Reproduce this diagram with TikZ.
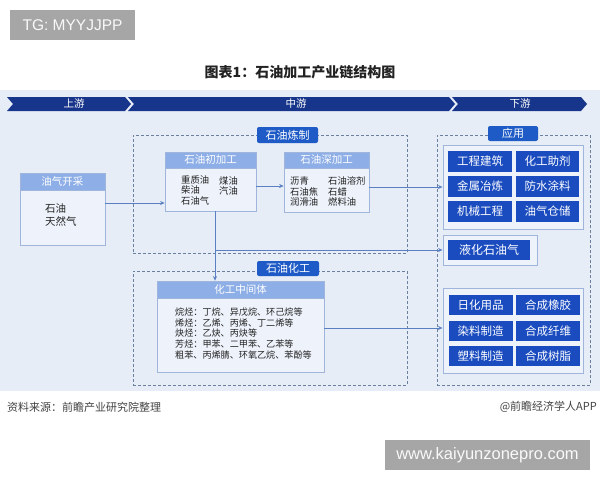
\documentclass[tikz,border=0pt]{standalone}
\usepackage{fontspec}
\setmainfont{Liberation Sans}
\newfontfamily\cjk{Noto Sans CJK SC}
\usetikzlibrary{arrows.meta}
\definecolor{navy}{HTML}{17358A}
\definecolor{lblue}{HTML}{1E5BC6}
\definecolor{cellblue}{HTML}{1A4CC0}
\definecolor{hdr}{HTML}{8DAEE6}
\definecolor{bodyc}{HTML}{EEF3FB}
\definecolor{bordc}{HTML}{9FB5DB}
\definecolor{panel}{HTML}{E6EDF7}
\definecolor{framec}{HTML}{6B7F9F}
\definecolor{linec}{HTML}{5A7FC2}
\definecolor{tgray}{HTML}{A6A6A6}
\definecolor{txt}{HTML}{222222}
\begin{document}
\begin{tikzpicture}[x=1pt,y=-1pt,
  tgbox/.style={fill=tgray, text=white!95!gray, inner sep=0pt, font=\fontsize{15.5}{17}\selectfont},
  hdrbox/.style={fill=hdr, draw=bordc, line width=0.7pt, text=white, inner sep=0pt, font=\cjk\fontsize{10.5}{12}\selectfont},
  bodybox/.style={fill=bodyc, draw=bordc, line width=0.7pt, inner sep=0pt},
  bodytext/.style={inner sep=0pt, align=left, text=txt, font=\cjk\fontsize{9.3}{10.5}\selectfont},
  frame/.style={draw=framec, dashed, dash pattern=on 3pt off 2pt, line width=0.8pt, inner sep=0pt},
  tagbox/.style={fill=lblue, rounded corners=2pt, text=white, inner sep=0pt, font=\cjk\fontsize{11}{13}\selectfont},
  holder/.style={fill=bodyc, draw=bordc, line width=0.9pt, inner sep=0pt},
  cell/.style={fill=cellblue, text=white, inner sep=0pt, font=\cjk\fontsize{11.5}{13}\selectfont},
  bantext/.style={text=white, inner sep=0pt, font=\cjk\fontsize{10.5}{12}\selectfont},
  arr/.style={draw=linec, line width=0.9pt, -{Stealth[length=4.5pt,width=4pt]}},
  ln/.style={draw=linec, line width=0.9pt}
]
\useasboundingbox (0,0) rectangle (600,480);
\fill[white] (0,0) rectangle (600,480);

% header watermark boxes
\node[tgbox, minimum width=125pt, minimum height=30pt] (tg) at (72.5,25) {TG: MYYJJPP};
\node[inner sep=0pt, text=txt, font=\cjk\bfseries\fontsize{14}{16}\selectfont] (title) at (300,72) {图表1：石油加工产业链结构图};

% panel
\fill[panel] (0,90) rectangle (600,391);

% banner
\fill[navy] (7,97) -- (125,97) -- (131,104) -- (125,111) -- (7,111) -- (13,104) -- cycle;
\fill[navy] (128,97) -- (449,97) -- (455,104) -- (449,111) -- (128,111) -- (134,104) -- cycle;
\fill[navy] (452,97) -- (581,97) -- (587,104) -- (581,111) -- (452,111) -- (458,104) -- cycle;
\node[bantext] (up) at (74,104) {上游};
\node[bantext] (mid) at (296,104) {中游};
\node[bantext] (down) at (520,104) {下游};

% frames
\node[frame, minimum width=274pt, minimum height=118pt] (f1) at (270,194) {};
\node[frame, minimum width=274pt, minimum height=114pt] (f2) at (270,328) {};
\node[frame, minimum width=153pt, minimum height=250pt] (f3) at (513.5,260) {};
\node[tagbox, minimum width=61pt, minimum height=16pt] (t1) at (287.5,135) {石油炼制};
\node[tagbox, minimum width=62pt, minimum height=15pt] (t2) at (288,268.5) {石油化工};
\node[tagbox, minimum width=50pt, minimum height=15pt] (t3) at (513,133.5) {应用};

% 油气开采
\node[bodybox, minimum width=85pt, minimum height=55pt] (yqb) at (62.5,217.5) {};
\node[hdrbox, minimum width=85pt, minimum height=17pt] (yqh) at (62.5,181.5) {油气开采};
\node[bodytext, anchor=west, font=\cjk\fontsize{10.5}{13}\selectfont] (yqt) at (45,215.5) {石油\\天然气};

% 石油初加工
\node[bodybox, minimum width=91pt, minimum height=43pt] (cjb) at (210.5,189.5) {};
\node[hdrbox, minimum width=91pt, minimum height=16pt] (cjh) at (210.5,160) {石油初加工};
\node[bodytext, anchor=west] (cjt1) at (181,190) {重质油\\柴油\\石油气};
\node[bodytext, anchor=west] (cjt2) at (219,186) {煤油\\汽油};

% 石油深加工
\node[bodybox, minimum width=85pt, minimum height=44pt] (sjb) at (326.5,190) {};
\node[hdrbox, minimum width=85pt, minimum height=16pt] (sjh) at (326.5,160) {石油深加工};
\node[bodytext, anchor=west] (sjt1) at (290,191.5) {沥青\\石油焦\\润滑油};
\node[bodytext, anchor=west] (sjt2) at (328,191.5) {石油溶剂\\石蜡\\燃料油};

% 化工中间体
\node[bodybox, minimum width=167pt, minimum height=74pt] (hgb) at (240.5,335) {};
\node[hdrbox, minimum width=167pt, minimum height=17pt] (hgh) at (240.5,289.5) {化工中间体};
\node[bodytext, anchor=west, font=\cjk\fontsize{9.1}{10.7}\selectfont] (hgt) at (175,333.5) {烷烃：丁烷、异戊烷、环己烷等\\烯烃：乙烯、丙烯、丁二烯等\\炔烃：乙炔、丙炔等\\芳烃：甲苯、二甲苯、乙苯等\\粗苯、丙烯腈、环氧乙烷、苯酚等};

% application boxes
\node[holder, minimum width=140pt, minimum height=84pt] (appU) at (513,187) {};
\node[cell, minimum width=64pt, minimum height=21pt] (u1) at (480,161.5) {工程建筑};
\node[cell, minimum width=63pt, minimum height=21pt] (u2) at (547.5,161.5) {化工助剂};
\node[cell, minimum width=64pt, minimum height=21pt] (u3) at (480,186.5) {金属冶炼};
\node[cell, minimum width=63pt, minimum height=21pt] (u4) at (547.5,186.5) {防水涂料};
\node[cell, minimum width=64pt, minimum height=21pt] (u5) at (480,211.5) {机械工程};
\node[cell, minimum width=63pt, minimum height=21pt] (u6) at (547.5,211.5) {油气仓储};

\node[holder, minimum width=94pt, minimum height=30pt] (lpg) at (490,250) {};
\node[cell, minimum width=82pt, minimum height=20pt, font=\cjk\fontsize{12}{14}\selectfont] (lpgc) at (489,250) {液化石油气};

\node[holder, minimum width=140pt, minimum height=85pt] (appL) at (513,330.5) {};
\node[cell, minimum width=64pt, minimum height=20pt] (l1) at (480.5,305) {日化用品};
\node[cell, minimum width=64pt, minimum height=20pt] (l2) at (548,305) {合成橡胶};
\node[cell, minimum width=64pt, minimum height=20pt] (l3) at (480.5,331) {染料制造};
\node[cell, minimum width=64pt, minimum height=20pt] (l4) at (548,331) {合成纤维};
\node[cell, minimum width=64pt, minimum height=20pt] (l5) at (480.5,356) {塑料制造};
\node[cell, minimum width=64pt, minimum height=20pt] (l6) at (548,356) {合成树脂};

% connectors
\coordinate (a1) at ([yshift=14.5pt]yqb.east);
\draw[arr] (a1) -- (a1 -| cjb.west);
\coordinate (a2) at ([yshift=3.5pt]cjb.east);
\draw[arr] (a2) -- (a2 -| sjb.west);
\coordinate (a3) at ([yshift=3pt]sjb.east);
\draw[arr] (a3) -- (a3 -| appU.west);
\coordinate (a4) at ([xshift=4.5pt]cjb.south);
\draw[arr] (a4) -- (a4 |- hgh.north);
\draw[arr] (a4 |- lpg.west) -- (lpg.west);
\coordinate (a5) at ([yshift=7pt]hgb.east);
\draw[arr] (a5) -- (a5 -| appL.west);

% footer
\node[anchor=west, inner sep=0pt, text=txt!85!white, font=\cjk\fontsize{11}{13}\selectfont] (src) at (7,407) {资料来源：前瞻产业研究院整理};
\node[anchor=east, inner sep=0pt, text=txt!85!white, font=\cjk\fontsize{11}{13}\selectfont] (app) at (597,407) {@前瞻经济学人APP};
\node[tgbox, minimum width=205pt, minimum height=30pt, font=\fontsize{16.5}{18}\selectfont] (www) at (487.5,455) {www.kaiyunzonepro.com};
\end{tikzpicture}
\end{document}
